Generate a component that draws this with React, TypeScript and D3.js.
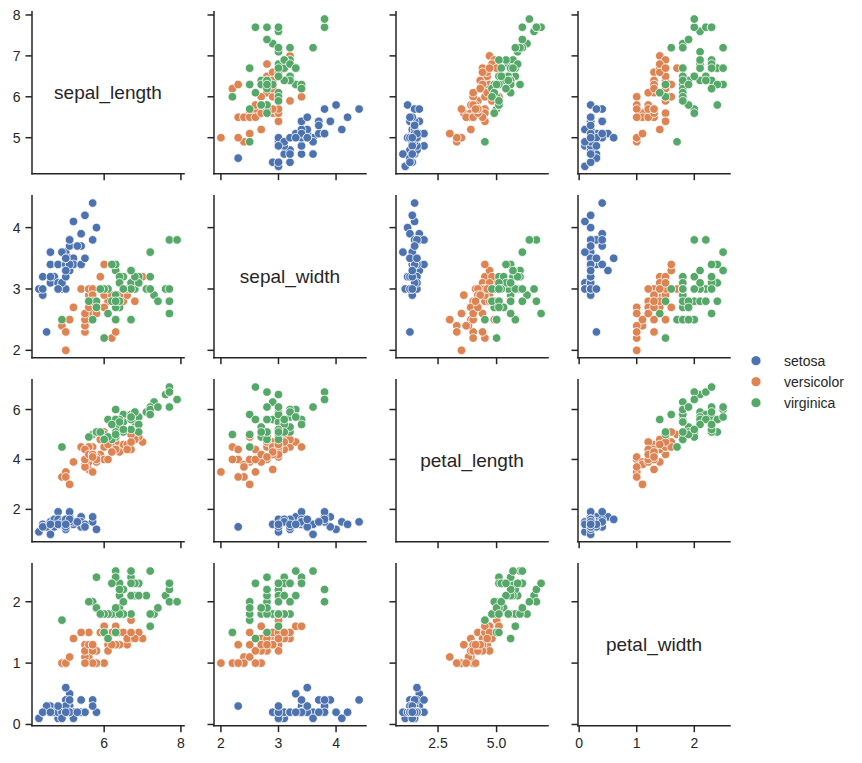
import React from "react";
import * as d3 from "d3";

const variables = ["sepal_length", "sepal_width", "petal_length", "petal_width"];
const speciesNames = ["setosa", "versicolor", "virginica"];
const speciesColors = ["#4c72b0", "#dd8452", "#55a868"];

const sepalLength = [
  5.1, 4.9, 4.7, 4.6, 5.0, 5.4, 4.6, 5.0, 4.4, 4.9, 5.4, 4.8, 4.8, 4.3, 5.8, 5.7, 5.4, 5.1, 5.7, 5.1, 5.4, 5.1, 4.6, 5.1, 4.8,
  5.0, 5.0, 5.2, 5.2, 4.7, 4.8, 5.4, 5.2, 5.5, 4.9, 5.0, 5.5, 4.9, 4.4, 5.1, 5.0, 4.5, 4.4, 5.0, 5.1, 4.8, 5.1, 4.6, 5.3, 5.0,
  7.0, 6.4, 6.9, 5.5, 6.5, 5.7, 6.3, 4.9, 6.6, 5.2, 5.0, 5.9, 6.0, 6.1, 5.6, 6.7, 5.6, 5.8, 6.2, 5.6, 5.9, 6.1, 6.3, 6.1, 6.4,
  6.6, 6.8, 6.7, 6.0, 5.7, 5.5, 5.5, 5.8, 6.0, 5.4, 6.0, 6.7, 6.3, 5.6, 5.5, 5.5, 6.1, 5.8, 5.0, 5.6, 5.7, 5.7, 6.2, 5.1, 5.7,
  6.3, 5.8, 7.1, 6.3, 6.5, 7.6, 4.9, 7.3, 6.7, 7.2, 6.5, 6.4, 6.8, 5.7, 5.8, 6.4, 6.5, 7.7, 7.7, 6.0, 6.9, 5.6, 7.7, 6.3, 6.7,
  7.2, 6.2, 6.1, 6.4, 7.2, 7.4, 7.9, 6.4, 6.3, 6.1, 7.7, 6.3, 6.4, 6.0, 6.9, 6.7, 6.9, 5.8, 6.8, 6.7, 6.7, 6.3, 6.5, 6.2, 5.9,
];
const sepalWidth = [
  3.5, 3.0, 3.2, 3.1, 3.6, 3.9, 3.4, 3.4, 2.9, 3.1, 3.7, 3.4, 3.0, 3.0, 4.0, 4.4, 3.9, 3.5, 3.8, 3.8, 3.4, 3.7, 3.6, 3.3, 3.4,
  3.0, 3.4, 3.5, 3.4, 3.2, 3.1, 3.4, 4.1, 4.2, 3.1, 3.2, 3.5, 3.6, 3.0, 3.4, 3.5, 2.3, 3.2, 3.5, 3.8, 3.0, 3.8, 3.2, 3.7, 3.3,
  3.2, 3.2, 3.1, 2.3, 2.8, 2.8, 3.3, 2.4, 2.9, 2.7, 2.0, 3.0, 2.2, 2.9, 2.9, 3.1, 3.0, 2.7, 2.2, 2.5, 3.2, 2.8, 2.5, 2.8, 2.9,
  3.0, 2.8, 3.0, 2.9, 2.6, 2.4, 2.4, 2.7, 2.7, 3.0, 3.4, 3.1, 2.3, 3.0, 2.5, 2.6, 3.0, 2.6, 2.3, 2.7, 3.0, 2.9, 2.9, 2.5, 2.8,
  3.3, 2.7, 3.0, 2.9, 3.0, 3.0, 2.5, 2.9, 2.5, 3.6, 3.2, 2.7, 3.0, 2.5, 2.8, 3.2, 3.0, 3.8, 2.6, 2.2, 3.2, 2.8, 2.8, 2.7, 3.3,
  3.2, 2.8, 3.0, 2.8, 3.0, 2.8, 3.8, 2.8, 2.8, 2.6, 3.0, 3.4, 3.1, 3.0, 3.1, 3.1, 3.1, 2.7, 3.2, 3.3, 3.0, 2.5, 3.0, 3.4, 3.0,
];
const petalLength = [
  1.4, 1.4, 1.3, 1.5, 1.4, 1.7, 1.4, 1.5, 1.4, 1.5, 1.5, 1.6, 1.4, 1.1, 1.2, 1.5, 1.3, 1.4, 1.7, 1.5, 1.7, 1.5, 1.0, 1.7, 1.9,
  1.6, 1.6, 1.5, 1.4, 1.6, 1.6, 1.5, 1.5, 1.4, 1.5, 1.2, 1.3, 1.4, 1.3, 1.5, 1.3, 1.3, 1.3, 1.6, 1.9, 1.4, 1.6, 1.4, 1.5, 1.4,
  4.7, 4.5, 4.9, 4.0, 4.6, 4.5, 4.7, 3.3, 4.6, 3.9, 3.5, 4.2, 4.0, 4.7, 3.6, 4.4, 4.5, 4.1, 4.5, 3.9, 4.8, 4.0, 4.9, 4.7, 4.3,
  4.4, 4.8, 5.0, 4.5, 3.5, 3.8, 3.7, 3.9, 5.1, 4.5, 4.5, 4.7, 4.4, 4.1, 4.0, 4.4, 4.6, 4.0, 3.3, 4.2, 4.2, 4.2, 4.3, 3.0, 4.1,
  6.0, 5.1, 5.9, 5.6, 5.8, 6.6, 4.5, 6.3, 5.8, 6.1, 5.1, 5.3, 5.5, 5.0, 5.1, 5.3, 5.5, 6.7, 6.9, 5.0, 5.7, 4.9, 6.7, 4.9, 5.7,
  6.0, 4.8, 4.9, 5.6, 5.8, 6.1, 6.4, 5.6, 5.1, 5.6, 6.1, 5.6, 5.5, 4.8, 5.4, 5.6, 5.1, 5.1, 5.9, 5.7, 5.2, 5.0, 5.2, 5.4, 5.1,
];
const petalWidth = [
  0.2, 0.2, 0.2, 0.2, 0.2, 0.4, 0.3, 0.2, 0.2, 0.1, 0.2, 0.2, 0.1, 0.1, 0.2, 0.4, 0.4, 0.3, 0.3, 0.3, 0.2, 0.4, 0.2, 0.5, 0.2,
  0.2, 0.4, 0.2, 0.2, 0.2, 0.2, 0.4, 0.1, 0.2, 0.2, 0.2, 0.2, 0.1, 0.2, 0.2, 0.3, 0.3, 0.2, 0.6, 0.4, 0.3, 0.2, 0.2, 0.2, 0.2,
  1.4, 1.5, 1.5, 1.3, 1.5, 1.3, 1.6, 1.0, 1.3, 1.4, 1.0, 1.5, 1.0, 1.4, 1.3, 1.4, 1.5, 1.0, 1.5, 1.1, 1.8, 1.3, 1.5, 1.2, 1.3,
  1.4, 1.4, 1.7, 1.5, 1.0, 1.1, 1.0, 1.2, 1.6, 1.5, 1.6, 1.5, 1.3, 1.3, 1.3, 1.2, 1.4, 1.2, 1.0, 1.3, 1.2, 1.3, 1.3, 1.1, 1.3,
  2.5, 1.9, 2.1, 1.8, 2.2, 2.1, 1.7, 1.8, 1.8, 2.5, 2.0, 1.9, 2.1, 2.0, 2.4, 2.3, 1.8, 2.2, 2.3, 1.5, 2.3, 2.0, 2.0, 1.8, 2.1,
  1.8, 1.8, 1.8, 2.1, 1.6, 1.9, 2.0, 2.2, 1.5, 1.4, 2.3, 2.4, 1.8, 1.8, 2.1, 2.4, 2.3, 1.9, 2.3, 2.5, 2.3, 1.9, 2.0, 2.3, 1.8,
];
// species index per row: 50 setosa, 50 versicolor, 50 virginica
const speciesCounts = [50, 50, 50];

const xTickValues = [[6, 8], [2, 3, 4], [2.5, 5.0], [0, 1, 2]];
const xTickLabels = [["6", "8"], ["2", "3", "4"], ["2.5", "5.0"], ["0", "1", "2"]];
const yTickValues = [[5, 6, 7, 8], [2, 3, 4], [2, 4, 6], [0, 1, 2]];
const yTickLabels = [["5", "6", "7", "8"], ["2", "3", "4"], ["2", "4", "6"], ["0", "1", "2"]];

const columns = [sepalLength, sepalWidth, petalLength, petalWidth];
const species: number[] = [];
speciesCounts.forEach((c, i) => {
  for (let k = 0; k < c; k++) species.push(i);
});

const LEFT = 32;
const COL_STEP = 182;
const COL_W = 152;
const TOP = 11.7;
const ROW_STEP = 184;
const ROW_H = 162;
const FONT = "'Liberation Sans', Arial, sans-serif";
const INK = "#262626";
const TICK = 6.5;

function domainOf(vals: number[]): [number, number] {
  const [mn, mx] = d3.extent(vals) as [number, number];
  const pad = (mx - mn) * 0.05;
  return [mn - pad, mx + pad];
}

export default function App() {
  const xScales = columns.map((vals, j) =>
    d3.scaleLinear().domain(domainOf(vals)).range([LEFT + j * COL_STEP, LEFT + j * COL_STEP + COL_W])
  );
  const yScales = columns.map((vals, i) =>
    d3.scaleLinear().domain(domainOf(vals)).range([TOP + i * ROW_STEP + ROW_H, TOP + i * ROW_STEP])
  );

  const panels: React.ReactNode[] = [];
  for (let i = 0; i < 4; i++) {
    for (let j = 0; j < 4; j++) {
      const xs = xScales[j];
      const ys = yScales[i];
      const x0 = xs.range()[0];
      const x1 = xs.range()[1];
      const yb = ys.range()[0];
      const yt = ys.range()[1];
      const content: React.ReactNode[] = [];
      if (i === j) {
        content.push(
          <text
            key="lab"
            x={(x0 + x1) / 2}
            y={(yb + yt) / 2}
            textAnchor="middle"
            dominantBaseline="central"
            fontSize={19}
            fontFamily={FONT}
            fill={INK}
          >
            {variables[i]}
          </text>
        );
      } else {
        const xv = columns[j];
        const yv = columns[i];
        xv.forEach((v, k) => {
          content.push(
            <circle
              key={"p" + k}
              cx={xs(v)}
              cy={ys(yv[k])}
              r={4.3}
              fill={speciesColors[species[k]]}
              stroke="#ffffff"
              strokeWidth={0.8}
            />
          );
        });
      }
      // spines
      content.push(
        <line key="ls" x1={x0} x2={x0} y1={yt} y2={yb} stroke={INK} strokeWidth={1.5} strokeLinecap="square" />
      );
      content.push(
        <line key="bs" x1={x0} x2={x1} y1={yb} y2={yb} stroke={INK} strokeWidth={1.5} strokeLinecap="square" />
      );
      xTickValues[j].forEach((t, k) => {
        const x = xs(t);
        content.push(<line key={"xt" + k} x1={x} x2={x} y1={yb} y2={yb + TICK} stroke={INK} strokeWidth={1.5} />);
        if (i === 3) {
          content.push(
            <text key={"xl" + k} x={x} y={yb + TICK + 16} textAnchor="middle" fontSize={14} fontFamily={FONT} fill={INK}>
              {xTickLabels[j][k]}
            </text>
          );
        }
      });
      yTickValues[i].forEach((t, k) => {
        const y = ys(t);
        content.push(<line key={"yt" + k} x1={x0 - TICK} x2={x0} y1={y} y2={y} stroke={INK} strokeWidth={1.5} />);
        if (j === 0) {
          content.push(
            <text
              key={"yl" + k}
              x={x0 - TICK - 5}
              y={y}
              textAnchor="end"
              dominantBaseline="central"
              fontSize={14}
              fontFamily={FONT}
              fill={INK}
            >
              {yTickLabels[i][k]}
            </text>
          );
        }
      });
      panels.push(<g key={`${i}-${j}`}>{content}</g>);
    }
  }

  const legend = speciesNames.map((name, k) => (
    <g key={name}>
      <circle cx={756} cy={360.7 + k * 21} r={5} fill={speciesColors[k]} stroke="#ffffff" strokeWidth={0.8} />
      <text x={784} y={360.7 + k * 21} dominantBaseline="central" fontSize={14} fontFamily={FONT} fill={INK}>
        {name}
      </text>
    </g>
  ));

  return (
    <svg width={846} height={763} style={{ display: "block", margin: "-8px 0 0 -8px" }} overflow="visible">
      <rect x={0} y={0} width={862} height={763} fill="#ffffff" />
      {panels}
      {legend}
    </svg>
  );
}
